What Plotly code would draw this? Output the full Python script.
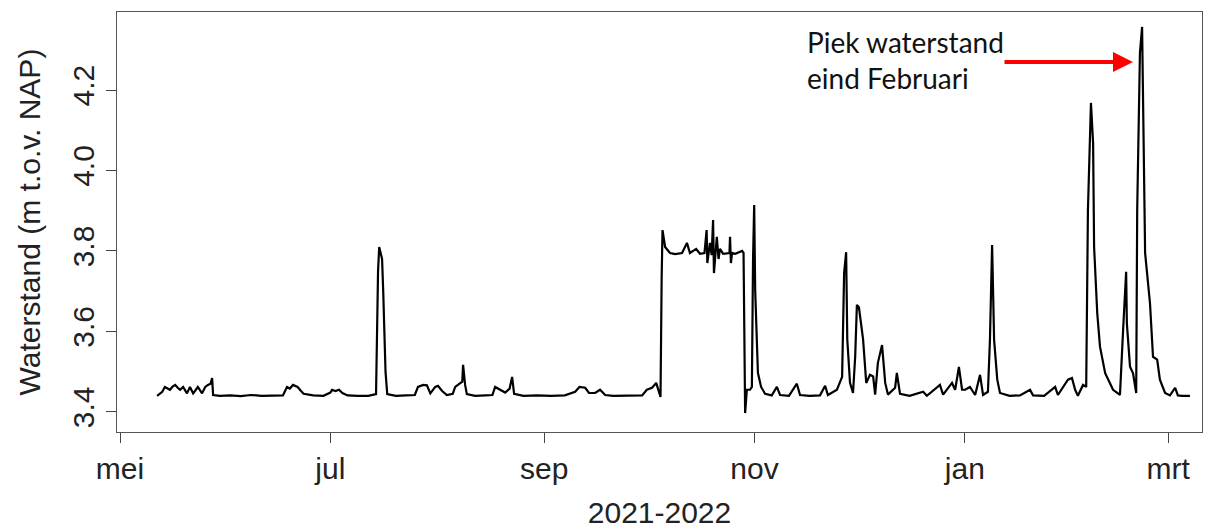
import plotly.graph_objects as go

dates = [
    "2021-05-11 18:00", "2021-05-12 12:00", "2021-05-13 06:00", "2021-05-14 00:00", "2021-05-14 18:00",
    "2021-05-15 12:00", "2021-05-16 06:00", "2021-05-17 00:00", "2021-05-17 18:00", "2021-05-18 10:00",
    "2021-05-19 07:00", "2021-05-20 10:00", "2021-05-21 07:00", "2021-05-22 05:00", "2021-05-23 00:00",
    "2021-05-23 14:00", "2021-05-24 19:00", "2021-05-25 17:00", "2021-05-26 12:00", "2021-05-27 06:00",
    "2021-05-27 17:00", "2021-05-28 00:00", "2021-05-30 00:00", "2021-06-02 00:00", "2021-06-05 00:00",
    "2021-06-08 00:00", "2021-06-11 00:00", "2021-06-14 00:00", "2021-06-17 06:00", "2021-06-18 10:00",
    "2021-06-19 06:00", "2021-06-20 04:00", "2021-06-21 12:00", "2021-06-22 12:00", "2021-06-23 06:00",
    "2021-06-26 00:00", "2021-06-29 00:00", "2021-07-01 00:00", "2021-07-01 12:00", "2021-07-02 12:00",
    "2021-07-03 12:00", "2021-07-04 12:00", "2021-07-06 00:00", "2021-07-09 00:00", "2021-07-12 00:00",
    "2021-07-14 06:00", "2021-07-14 12:00", "2021-07-14 20:00", "2021-07-15 04:00", "2021-07-15 16:00",
    "2021-07-16 00:00", "2021-07-16 08:00", "2021-07-16 16:00", "2021-07-17 00:00", "2021-07-17 12:00",
    "2021-07-20 00:00", "2021-07-23 00:00", "2021-07-25 12:00", "2021-07-26 10:00", "2021-07-27 22:00",
    "2021-07-29 00:00", "2021-07-30 00:00", "2021-07-31 10:00", "2021-08-01 05:00", "2021-08-02 10:00",
    "2021-08-03 19:00", "2021-08-05 12:00", "2021-08-06 05:00", "2021-08-07 00:00", "2021-08-08 06:00",
    "2021-08-08 12:00", "2021-08-09 02:00", "2021-08-09 14:00", "2021-08-12 00:00", "2021-08-15 00:00",
    "2021-08-17 00:00", "2021-08-17 19:00", "2021-08-19 05:00", "2021-08-20 17:00", "2021-08-22 00:00",
    "2021-08-22 17:00", "2021-08-23 07:00", "2021-08-26 00:00", "2021-08-30 00:00", "2021-09-03 00:00",
    "2021-09-07 00:00", "2021-09-10 00:00", "2021-09-11 06:00", "2021-09-12 22:00", "2021-09-14 00:00",
    "2021-09-15 19:00", "2021-09-17 05:00", "2021-09-18 17:00", "2021-09-21 00:00", "2021-09-25 00:00",
    "2021-09-29 10:00", "2021-09-30 19:00", "2021-10-02 07:00", "2021-10-03 12:00", "2021-10-04 18:00",
    "2021-10-05 02:00", "2021-10-05 08:00", "2021-10-06 02:00", "2021-10-07 12:00", "2021-10-09 00:00",
    "2021-10-11 00:00", "2021-10-12 10:00", "2021-10-13 07:00", "2021-10-15 02:00", "2021-10-16 05:00",
    "2021-10-17 12:00", "2021-10-18 03:00", "2021-10-18 08:00", "2021-10-19 02:00", "2021-10-19 14:00",
    "2021-10-20 00:00", "2021-10-20 06:00", "2021-10-20 18:00", "2021-10-21 02:00", "2021-10-21 14:00",
    "2021-10-22 00:00", "2021-10-22 22:00", "2021-10-24 18:00", "2021-10-24 22:00", "2021-10-25 04:00",
    "2021-10-25 12:00", "2021-10-26 10:00", "2021-10-28 10:00", "2021-10-28 20:00", "2021-10-29 07:00",
    "2021-10-29 19:00", "2021-10-30 17:00", "2021-10-31 06:00", "2021-10-31 14:00", "2021-10-31 22:00",
    "2021-11-01 05:00", "2021-11-01 17:00", "2021-11-02 00:00", "2021-11-02 22:00", "2021-11-04 02:00",
    "2021-11-06 00:00", "2021-11-07 12:00", "2021-11-08 10:00", "2021-11-11 00:00", "2021-11-13 07:00",
    "2021-11-14 05:00", "2021-11-17 00:00", "2021-11-20 00:00", "2021-11-21 12:00", "2021-11-22 07:00",
    "2021-11-24 22:00", "2021-11-26 10:00", "2021-11-27 00:00", "2021-11-27 14:00", "2021-11-27 22:00",
    "2021-11-28 17:00", "2021-11-29 14:00", "2021-11-30 05:00", "2021-11-30 17:00", "2021-12-01 07:00",
    "2021-12-02 12:00", "2021-12-03 10:00", "2021-12-04 12:00", "2021-12-05 10:00", "2021-12-06 00:00",
    "2021-12-06 19:00", "2021-12-08 00:00", "2021-12-08 22:00", "2021-12-09 17:00", "2021-12-11 19:00",
    "2021-12-12 07:00", "2021-12-13 05:00", "2021-12-16 00:00", "2021-12-19 22:00", "2021-12-21 00:00",
    "2021-12-24 19:00", "2021-12-25 17:00", "2021-12-28 07:00", "2021-12-29 05:00", "2021-12-30 07:00",
    "2021-12-31 05:00", "2022-01-01 02:00", "2022-01-02 12:00", "2022-01-04 00:00", "2022-01-05 10:00",
    "2022-01-06 07:00", "2022-01-07 17:00", "2022-01-08 07:00", "2022-01-08 22:00", "2022-01-09 05:00",
    "2022-01-09 12:00", "2022-01-10 10:00", "2022-01-11 05:00", "2022-01-14 00:00", "2022-01-17 00:00",
    "2022-01-19 22:00", "2022-01-20 19:00", "2022-01-24 00:00", "2022-01-27 05:00", "2022-01-28 00:00",
    "2022-01-30 22:00", "2022-02-01 02:00", "2022-02-02 00:00", "2022-02-02 19:00", "2022-02-04 07:00",
    "2022-02-05 05:00", "2022-02-05 17:00", "2022-02-06 14:00", "2022-02-07 05:00", "2022-02-07 12:00",
    "2022-02-08 10:00", "2022-02-09 05:00", "2022-02-10 17:00", "2022-02-13 00:00", "2022-02-15 00:00",
    "2022-02-15 22:00", "2022-02-16 19:00", "2022-02-17 00:00", "2022-02-17 22:00", "2022-02-18 19:00",
    "2022-02-19 17:00", "2022-02-20 00:00", "2022-02-20 19:00", "2022-02-21 10:00", "2022-02-21 17:00",
    "2022-02-22 07:00", "2022-02-23 17:00", "2022-02-24 14:00", "2022-02-25 19:00", "2022-02-26 14:00",
    "2022-02-28 02:00", "2022-03-01 12:00", "2022-03-03 00:00", "2022-03-03 19:00", "2022-03-05 00:00",
    "2022-03-07 07:00",
]

levels = [
    3.440, 3.445, 3.450, 3.462, 3.458,
    3.455, 3.463, 3.467, 3.460, 3.455,
    3.462, 3.446, 3.462, 3.446, 3.455,
    3.462, 3.446, 3.462, 3.467, 3.470,
    3.484, 3.442, 3.440, 3.441, 3.439,
    3.442, 3.440, 3.440, 3.441, 3.462,
    3.458, 3.467, 3.462, 3.452, 3.445,
    3.441, 3.440, 3.448, 3.455, 3.452,
    3.455, 3.447, 3.441, 3.440, 3.440,
    3.444, 3.580, 3.750, 3.810, 3.795,
    3.780, 3.700, 3.585, 3.500, 3.444,
    3.440, 3.441, 3.442, 3.462, 3.467,
    3.466, 3.446, 3.462, 3.465, 3.452,
    3.442, 3.445, 3.462, 3.467, 3.475,
    3.517, 3.467, 3.444, 3.440, 3.441,
    3.442, 3.462, 3.455, 3.448, 3.458,
    3.487, 3.445, 3.440, 3.441, 3.440,
    3.441, 3.450, 3.462, 3.460, 3.447,
    3.447, 3.455, 3.442, 3.440, 3.440,
    3.441, 3.455, 3.460, 3.472, 3.437,
    3.735, 3.852, 3.810, 3.795, 3.792,
    3.795, 3.820, 3.795, 3.805, 3.793,
    3.795, 3.852, 3.770, 3.820, 3.790,
    3.877, 3.745, 3.810, 3.835, 3.780,
    3.805, 3.793, 3.795, 3.835, 3.770,
    3.795, 3.793, 3.800, 3.795, 3.397,
    3.455, 3.455, 3.462, 3.778, 3.914,
    3.703, 3.554, 3.497, 3.462, 3.445,
    3.441, 3.462, 3.442, 3.440, 3.470,
    3.442, 3.440, 3.441, 3.465, 3.442,
    3.455, 3.487, 3.745, 3.797, 3.580,
    3.472, 3.447, 3.537, 3.666, 3.660,
    3.580, 3.472, 3.492, 3.488, 3.443,
    3.522, 3.566, 3.472, 3.443, 3.460,
    3.497, 3.445, 3.440, 3.450, 3.440,
    3.467, 3.443, 3.472, 3.455, 3.512,
    3.455, 3.455, 3.462, 3.442, 3.492,
    3.442, 3.450, 3.579, 3.815, 3.696,
    3.579, 3.480, 3.447, 3.440, 3.441,
    3.455, 3.441, 3.440, 3.462, 3.442,
    3.480, 3.484, 3.455, 3.440, 3.467,
    3.462, 3.902, 4.168, 4.068, 3.810,
    3.645, 3.562, 3.496, 3.455, 3.442,
    3.604, 3.748, 3.620, 3.512, 3.496,
    3.447, 3.902, 4.292, 4.357, 4.108,
    3.795, 3.670, 3.537, 3.530, 3.480,
    3.447, 3.441, 3.460, 3.441, 3.440,
    3.440,
]

month_ticks = ["2021-05-01", "2021-07-01", "2021-09-01", "2021-11-01", "2022-01-01", "2022-03-01"]
month_labels = ["mei", "jul", "sep", "nov", "jan", "mrt"]
y_ticks = [3.4, 3.6, 3.8, 4.0, 4.2]
y_labels = ["3.4", "3.6", "3.8", "4.0", "4.2"]

FONT = "Liberation Sans, Arial, sans-serif"
TXT = "#222222"

fig = go.Figure()
fig.add_trace(go.Scatter(x=dates, y=levels, mode="lines",
                         line=dict(color="black", width=2.2), hoverinfo="skip"))

fig.update_layout(
    width=1231, height=529,
    margin=dict(l=117, r=29, t=12, b=97),
    paper_bgcolor="white", plot_bgcolor="white",
    showlegend=False,
    font=dict(family=FONT, color=TXT, size=30),
)

fig.update_xaxes(
    type="date", automargin=False,
    range=["2021-04-30 03:00", "2022-03-10 19:00"],
    tickmode="array", tickvals=month_ticks, ticktext=month_labels,
    ticks="outside", ticklen=10, tickwidth=1, tickcolor="#444",
    tickfont=dict(size=30, family=FONT, color=TXT),
    showline=True, linecolor="#555", linewidth=1, mirror=True,
    showgrid=False, zeroline=False,
    title=dict(text="2021-2022", font=dict(size=30, family=FONT, color=TXT), standoff=22),
)
fig.update_yaxes(
    range=[3.350, 4.394], automargin=False,
    tickmode="array", tickvals=y_ticks, ticktext=y_labels, tickangle=-90,
    ticks="outside", ticklen=10, tickwidth=1, tickcolor="#444",
    tickfont=dict(size=30, family=FONT, color=TXT),
    showline=True, linecolor="#555", linewidth=1, mirror=True,
    showgrid=False, zeroline=False,
    title=dict(text="Waterstand (m t.o.v. NAP)", font=dict(size=30, family=FONT, color=TXT), standoff=17),
)

fig.add_annotation(
    xref="paper", yref="paper", x=0.634, y=0.886, xanchor="left", yanchor="middle",
    text="Piek waterstand<br>eind Februari", showarrow=False, align="left",
    font=dict(family="Lato, Open Sans, sans-serif", size=28, color="#111"),
)
fig.add_annotation(
    xref="paper", yref="paper", x=0.9364, y=0.881,
    ax=-130, ay=0, axref="pixel", ayref="pixel",
    text="", showarrow=True, arrowhead=2, arrowsize=1, arrowwidth=4,
    arrowcolor="#ff0000", standoff=0, startstandoff=0,
)

fig.write_html("out.html")
